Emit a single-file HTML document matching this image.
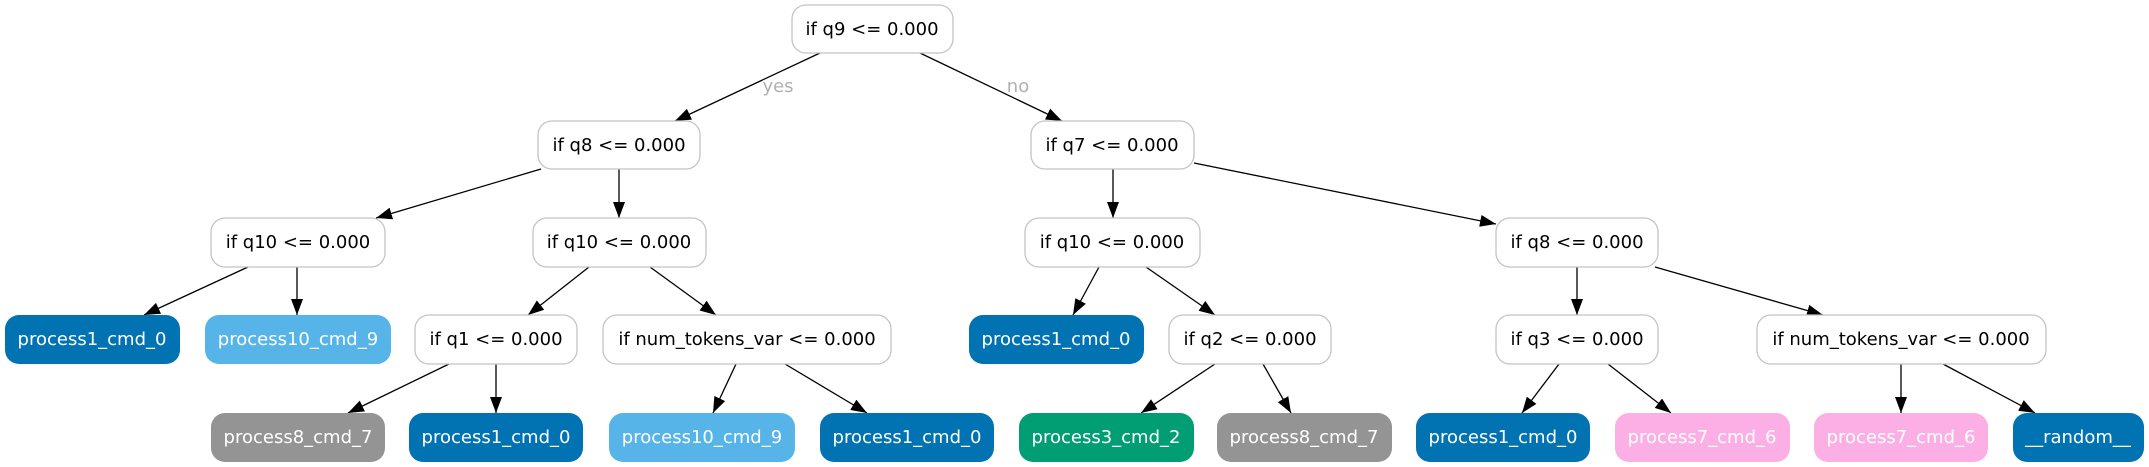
<!DOCTYPE html>
<html><head><meta charset="utf-8"><style>
html,body{margin:0;padding:0;background:#fff;}
svg{display:block;}
text{font-family:"DejaVu Sans",sans-serif;font-size:18px;}
</style></head><body>
<svg width="2149" height="467" viewBox="0 0 2149 467" xmlns="http://www.w3.org/2000/svg">
<defs>
<marker id="a" markerUnits="userSpaceOnUse" markerWidth="18" markerHeight="12" refX="16" refY="6" orient="auto">
<path d="M0,0 L16,6 L0,12 z" fill="#000"/>
</marker>
</defs>
<g stroke="#000" stroke-width="1.3" marker-end="url(#a)">
<line x1="820" y1="53" x2="675" y2="121"/>
<line x1="920" y1="53" x2="1062" y2="121"/>
<line x1="541" y1="169" x2="376" y2="218"/>
<line x1="619" y1="169" x2="619" y2="218"/>
<line x1="248" y1="267" x2="144" y2="315"/>
<line x1="297" y1="267" x2="297" y2="315"/>
<line x1="589" y1="267" x2="528" y2="315"/>
<line x1="650" y1="267" x2="716" y2="315"/>
<line x1="449" y1="364" x2="348" y2="413"/>
<line x1="496" y1="364" x2="496" y2="413"/>
<line x1="736" y1="364" x2="713" y2="413"/>
<line x1="785" y1="364" x2="867" y2="413"/>
<line x1="1113" y1="169" x2="1113" y2="218"/>
<line x1="1194" y1="163" x2="1496" y2="224"/>
<line x1="1099" y1="267" x2="1073" y2="315"/>
<line x1="1146" y1="267" x2="1215" y2="315"/>
<line x1="1577" y1="267" x2="1577" y2="315"/>
<line x1="1655" y1="267" x2="1823" y2="315"/>
<line x1="1215" y1="364" x2="1141" y2="413"/>
<line x1="1263" y1="364" x2="1291" y2="413"/>
<line x1="1559" y1="364" x2="1522" y2="413"/>
<line x1="1608" y1="364" x2="1671" y2="413"/>
<line x1="1901" y1="364" x2="1901" y2="413"/>
<line x1="1943" y1="364" x2="2035" y2="413"/>
</g>
<text x="778" y="92" fill="#b0b0b0" text-anchor="middle">yes</text>
<text x="1018" y="92" fill="#b0b0b0" text-anchor="middle">no</text>
<g stroke="#c4c4c4" stroke-width="1.3" fill="#fff">
<rect x="792" y="5" width="161" height="48" rx="14"/>
<rect x="538" y="121" width="162" height="48" rx="14"/>
<rect x="1031" y="121" width="163" height="48" rx="14"/>
<rect x="211" y="218" width="174" height="49" rx="14"/>
<rect x="533" y="218" width="173" height="49" rx="14"/>
<rect x="1025" y="218" width="175" height="49" rx="14"/>
<rect x="1496" y="218" width="162" height="49" rx="14"/>
<rect x="415" y="315" width="162" height="49" rx="14"/>
<rect x="603" y="315" width="288" height="49" rx="14"/>
<rect x="1169" y="315" width="162" height="49" rx="14"/>
<rect x="1496" y="315" width="162" height="49" rx="14"/>
<rect x="1757" y="315" width="289" height="49" rx="14"/>
</g>
<g>
<rect x="5" y="315" width="175" height="49" rx="14" fill="#0173b2"/>
<rect x="205" y="315" width="186" height="49" rx="14" fill="#56b4e9"/>
<rect x="969" y="315" width="175" height="49" rx="14" fill="#0173b2"/>
<rect x="211" y="413" width="174" height="49" rx="14" fill="#949494"/>
<rect x="409" y="413" width="174" height="49" rx="14" fill="#0173b2"/>
<rect x="609" y="413" width="186" height="49" rx="14" fill="#56b4e9"/>
<rect x="820" y="413" width="174" height="49" rx="14" fill="#0173b2"/>
<rect x="1019" y="413" width="175" height="49" rx="14" fill="#029e73"/>
<rect x="1217" y="413" width="175" height="49" rx="14" fill="#949494"/>
<rect x="1416" y="413" width="174" height="49" rx="14" fill="#0173b2"/>
<rect x="1615" y="413" width="175" height="49" rx="14" fill="#fbafe4"/>
<rect x="1814" y="413" width="174" height="49" rx="14" fill="#fbafe4"/>
<rect x="2013" y="413" width="131" height="49" rx="14" fill="#0173b2"/>
</g>
<g text-anchor="middle" fill="#000">
<text x="872" y="35">if q9 &lt;= 0.000</text>
<text x="619" y="151">if q8 &lt;= 0.000</text>
<text x="1112" y="151">if q7 &lt;= 0.000</text>
<text x="298" y="248">if q10 &lt;= 0.000</text>
<text x="619" y="248">if q10 &lt;= 0.000</text>
<text x="1112" y="248">if q10 &lt;= 0.000</text>
<text x="1577" y="248">if q8 &lt;= 0.000</text>
<text x="496" y="345">if q1 &lt;= 0.000</text>
<text x="747" y="345">if num_tokens_var &lt;= 0.000</text>
<text x="1250" y="345">if q2 &lt;= 0.000</text>
<text x="1577" y="345">if q3 &lt;= 0.000</text>
<text x="1901" y="345">if num_tokens_var &lt;= 0.000</text>
</g>
<g text-anchor="middle" fill="#fff">
<text x="92" y="345">process1_cmd_0</text>
<text x="298" y="345">process10_cmd_9</text>
<text x="1056" y="345">process1_cmd_0</text>
<text x="298" y="443">process8_cmd_7</text>
<text x="496" y="443">process1_cmd_0</text>
<text x="702" y="443">process10_cmd_9</text>
<text x="907" y="443">process1_cmd_0</text>
<text x="1106" y="443">process3_cmd_2</text>
<text x="1304" y="443">process8_cmd_7</text>
<text x="1503" y="443">process1_cmd_0</text>
<text x="1702" y="443">process7_cmd_6</text>
<text x="1901" y="443">process7_cmd_6</text>
<text x="2078" y="443">__random__</text>
</g>
</svg>
</body></html>
